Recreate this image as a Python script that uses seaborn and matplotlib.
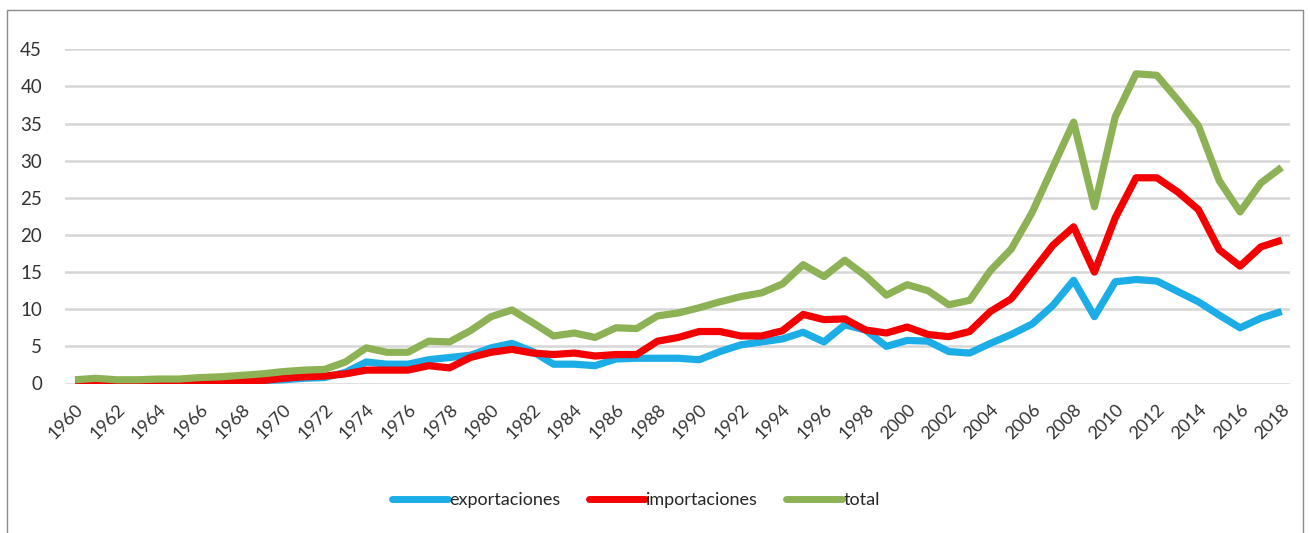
import numpy as np
import pandas as pd
import matplotlib
matplotlib.use("Agg")
import matplotlib.pyplot as plt
from matplotlib.lines import Line2D
import seaborn as sns

years = list(range(1960, 2019))

exportaciones = [
    0.1, 0.1, 0.1, 0.1, 0.1, 0.1, 0.2, 0.2, 0.3, 0.4,
    0.5, 0.7, 0.8, 1.5, 2.9, 2.6, 2.6, 3.2, 3.5, 3.8,
    4.8, 5.4, 4.3, 2.6, 2.6, 2.4, 3.3, 3.4, 3.4, 3.4,
    3.2, 4.3, 5.2, 5.6, 6.0, 6.9, 5.6, 7.9, 7.2, 5.0,
    5.8, 5.7, 4.3, 4.1, 5.4, 6.6, 8.0, 10.5, 13.9, 9.0,
    13.7, 14.0, 13.8, 12.4, 11.0, 9.2, 7.5, 8.8, 9.7,
]

importaciones = [
    0.1, 0.1, 0.1, 0.1, 0.1, 0.1, 0.2, 0.2, 0.3, 0.4,
    0.7, 0.9, 1.0, 1.3, 1.8, 1.8, 1.8, 2.4, 2.1, 3.5,
    4.2, 4.6, 4.1, 3.9, 4.1, 3.7, 3.9, 3.9, 5.7, 6.2,
    7.0, 7.0, 6.4, 6.4, 7.1, 9.3, 8.6, 8.7, 7.2, 6.8,
    7.6, 6.6, 6.3, 7.0, 9.7, 11.4, 15.0, 18.6, 21.1, 15.0,
    22.3, 27.7, 27.7, 25.8, 23.4, 18.0, 15.8, 18.4, 19.3,
]

total = [
    0.5, 0.7, 0.5, 0.5, 0.6, 0.6, 0.8, 0.9, 1.1, 1.3,
    1.6, 1.8, 1.9, 2.9, 4.8, 4.2, 4.2, 5.7, 5.6, 7.1,
    9.0, 9.9, 8.2, 6.4, 6.8, 6.2, 7.5, 7.4, 9.1, 9.5,
    10.2, 11.0, 11.7, 12.2, 13.4, 16.0, 14.4, 16.6, 14.5, 11.9,
    13.3, 12.5, 10.6, 11.2, 15.2, 18.1, 23.0, 29.1, 35.2, 23.8,
    35.9, 41.7, 41.5, 38.2, 34.7, 27.3, 23.1, 27.0, 29.1,
]

series_names = ["exportaciones", "importaciones", "total"]
series_colors = ["#1CADE6", "#F40000", "#8DB255"]
y_ticks = [0, 5, 10, 15, 20, 25, 30, 35, 40, 45]
x_tick_labels = [str(y) for y in years[::2]]

df = pd.DataFrame({
    "year": years * 3,
    "valor": exportaciones + importaciones + total,
    "serie": (["exportaciones"] * len(years) + ["importaciones"] * len(years)
              + ["total"] * len(years)),
})

sns.set_theme(style="white")
plt.rcParams["font.family"] = ["Lato", "DejaVu Sans"]

fig = plt.figure(figsize=(13.10, 5.33), dpi=100)
ax = fig.add_axes([65 / 1310, 1 - 383.5 / 533, (1290 - 65) / 1310, (383.5 - 49.3) / 533])

sns.lineplot(
    data=df, x="year", y="valor", hue="serie",
    hue_order=series_names, palette=series_colors,
    linewidth=5.2, ax=ax, legend=False,
    solid_joinstyle="round", solid_capstyle="butt",
)

ax.set_xlim(1959.52, 2018.4)
ax.set_ylim(0, 45)
ax.set_yticks(y_ticks)
ax.set_yticklabels([str(v) for v in y_ticks])
ax.set_xticks(years[::2])
ax.set_xticklabels(x_tick_labels, rotation=45, ha="right",
                   rotation_mode="anchor")
ax.set_xlabel("")
ax.set_ylabel("")

for s in ax.spines.values():
    s.set_visible(False)
ax.grid(axis="y", color="#D6D6D6", linewidth=1.8)
ax.grid(axis="x", visible=False)
ax.set_axisbelow(True)
ax.tick_params(axis="y", length=0, pad=16.5, labelsize=13.5, labelcolor="#333333")
ax.tick_params(axis="x", length=0, pad=13, labelsize=13, labelcolor="#333333")

handles = [
    Line2D([], [], color=c, linewidth=5, solid_capstyle="round")
    for c in series_colors
]
ax.legend(
    handles, series_names, loc="center", ncol=3, frameon=False,
    bbox_to_anchor=(636 / 1310, (533 - 500) / 533), bbox_transform=fig.transFigure,
    fontsize=13, handlelength=3.1, handletextpad=0.1, columnspacing=1.55,
    labelcolor="#262626",
)

# outer chart border (left, top, right)
bx0, bx1 = 7 / 1310, 1303 / 1310
by1 = 1 - 10 / 533
for xs, ys in [([bx0, bx0], [0, by1]), ([bx0, bx1], [by1, by1]),
               ([bx1, bx1], [by1, 0])]:
    fig.add_artist(Line2D(xs, ys, color="#8C8C8C", linewidth=1.0,
                          transform=fig.transFigure))

fig.savefig("out.png", dpi=100)
